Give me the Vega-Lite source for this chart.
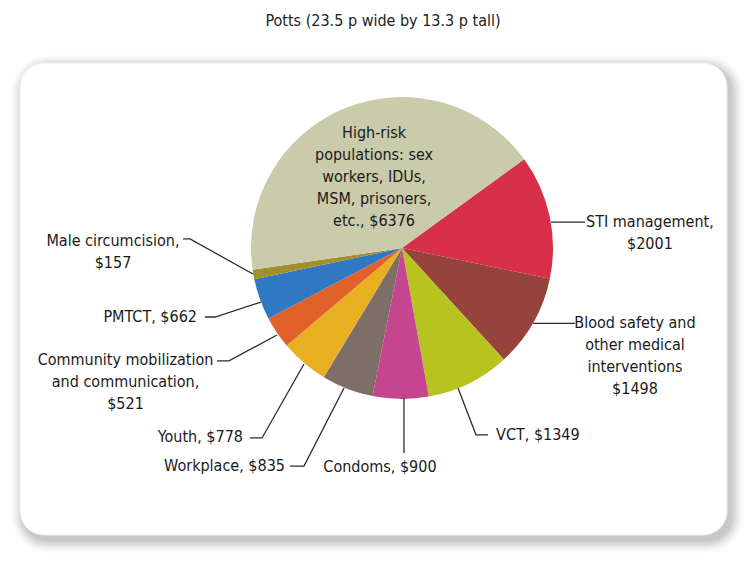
{
  "$schema": "https://vega.github.io/schema/vega-lite/v6.json",
  "width": 707,
  "height": 472,
  "autosize": "none",
  "padding": {"left": 20, "top": 63, "right": 23, "bottom": 43},
  "background": "white",
  "config": {
    "view": {"stroke": null},
    "font": "DejaVu Sans Condensed, DejaVu Sans, sans-serif",
    "title": {"font": "DejaVu Sans Condensed, DejaVu Sans, sans-serif"},
    "text": {"font": "DejaVu Sans Condensed, DejaVu Sans, sans-serif"}
  },
  "title": {
    "text": "Potts (23.5 p wide by 13.3 p tall)",
    "fontSize": 16,
    "fontWeight": "normal",
    "color": "#222222",
    "baseline": "alphabetic",
    "offset": 13,
    "dx": 9.5
  },
  "datasets": {
    "slices": [
      {"name": "STI management", "value": 2001, "order": 1},
      {"name": "Blood safety and other medical interventions", "value": 1498, "order": 2},
      {"name": "VCT", "value": 1349, "order": 3},
      {"name": "Condoms", "value": 900, "order": 4},
      {"name": "Workplace", "value": 835, "order": 5},
      {"name": "Youth", "value": 778, "order": 6},
      {"name": "Community mobilization and communication", "value": 521, "order": 7},
      {"name": "PMTCT", "value": 662, "order": 8},
      {"name": "Male circumcision", "value": 157, "order": 9},
      {"name": "High-risk populations", "value": 6376, "order": 10}
    ],
    "frame": [
      {"x0": -2.5298, "x1": 2.1523, "y0": 1.2252, "y1": -1.9007}
    ],
    "leaders": [
      {"label": "STI", "step": 1, "x": 0.987, "y": 0.172},
      {"label": "STI", "step": 2, "x": 1.212, "y": 0.172},
      {"label": "Blood", "step": 1, "x": 0.868, "y": -0.499},
      {"label": "Blood", "step": 2, "x": 1.146, "y": -0.499},
      {"label": "VCT", "step": 1, "x": 0.371, "y": -0.927},
      {"label": "VCT", "step": 2, "x": 0.490, "y": -1.238},
      {"label": "VCT", "step": 3, "x": 0.570, "y": -1.238},
      {"label": "Condoms", "step": 1, "x": 0.013, "y": -0.993},
      {"label": "Condoms", "step": 2, "x": 0.013, "y": -1.358},
      {"label": "Workplace", "step": 1, "x": -0.384, "y": -0.927},
      {"label": "Workplace", "step": 2, "x": -0.649, "y": -1.444},
      {"label": "Workplace", "step": 3, "x": -0.742, "y": -1.444},
      {"label": "Youth", "step": 1, "x": -0.649, "y": -0.768},
      {"label": "Youth", "step": 2, "x": -0.927, "y": -1.258},
      {"label": "Youth", "step": 3, "x": -1.007, "y": -1.258},
      {"label": "Community", "step": 1, "x": -0.828, "y": -0.576},
      {"label": "Community", "step": 2, "x": -1.146, "y": -0.748},
      {"label": "Community", "step": 3, "x": -1.225, "y": -0.748},
      {"label": "PMTCT", "step": 1, "x": -0.934, "y": -0.358},
      {"label": "PMTCT", "step": 2, "x": -1.238, "y": -0.457},
      {"label": "PMTCT", "step": 3, "x": -1.305, "y": -0.457},
      {"label": "Male", "step": 1, "x": -0.987, "y": -0.172},
      {"label": "Male", "step": 2, "x": -1.404, "y": 0.060},
      {"label": "Male", "step": 3, "x": -1.450, "y": 0.060}
    ],
    "labels_center": [
      {"text": "High-risk\npopulations: sex\nworkers, IDUs,\nMSM, prisoners,\netc., $6376", "x": -0.185, "y": 0.762},
      {"text": "STI management,\n$2001", "x": 1.642, "y": 0.172},
      {"text": "Blood safety and\nother medical\ninterventions\n$1498", "x": 1.543, "y": -0.497},
      {"text": "Condoms, $900", "x": -0.146, "y": -1.450},
      {"text": "Community mobilization\nand communication,\n$521", "x": -1.831, "y": -0.742},
      {"text": "Male circumcision,\n$157", "x": -1.914, "y": 0.046}
    ],
    "labels_left": [
      {"text": "VCT, $1349", "x": 0.623, "y": -1.238}
    ],
    "labels_right": [
      {"text": "Workplace, $835", "x": -0.775, "y": -1.444},
      {"text": "Youth, $778", "x": -1.053, "y": -1.252},
      {"text": "PMTCT, $662", "x": -1.358, "y": -0.457}
    ]
  },
  "encoding": {
    "x": {"type": "quantitative", "scale": {"domain": [-2.5298, 2.1523], "nice": false, "zero": false}, "axis": null},
    "y": {"type": "quantitative", "scale": {"domain": [-1.9007, 1.2252], "nice": false, "zero": false}, "axis": null}
  },
  "layer": [
    {"data": {"name": "frame"}, "mark": {"type": "rect", "color": "black", "opacity": 0.045, "cornerRadius": 25, "xOffset": 3, "x2Offset": 5, "yOffset": 4, "y2Offset": 6},
     "encoding": {"x": {"field": "x0"}, "x2": {"field": "x1"}, "y": {"field": "y0"}, "y2": {"field": "y1"}}},
    {"data": {"name": "frame"}, "mark": {"type": "rect", "color": "black", "opacity": 0.04, "cornerRadius": 27, "xOffset": 1, "x2Offset": 7, "yOffset": 2, "y2Offset": 8},
     "encoding": {"x": {"field": "x0"}, "x2": {"field": "x1"}, "y": {"field": "y0"}, "y2": {"field": "y1"}}},
    {"data": {"name": "frame"}, "mark": {"type": "rect", "color": "black", "opacity": 0.04, "cornerRadius": 29, "xOffset": -1, "x2Offset": 9, "yOffset": 0, "y2Offset": 10},
     "encoding": {"x": {"field": "x0"}, "x2": {"field": "x1"}, "y": {"field": "y0"}, "y2": {"field": "y1"}}},
    {"data": {"name": "frame"}, "mark": {"type": "rect", "color": "black", "opacity": 0.035, "cornerRadius": 31, "xOffset": -3, "x2Offset": 11, "yOffset": -2, "y2Offset": 12},
     "encoding": {"x": {"field": "x0"}, "x2": {"field": "x1"}, "y": {"field": "y0"}, "y2": {"field": "y1"}}},
    {"data": {"name": "frame"}, "mark": {"type": "rect", "color": "black", "opacity": 0.03, "cornerRadius": 33, "xOffset": -5, "x2Offset": 13, "yOffset": -4, "y2Offset": 14},
     "encoding": {"x": {"field": "x0"}, "x2": {"field": "x1"}, "y": {"field": "y0"}, "y2": {"field": "y1"}}},
    {"data": {"name": "frame"}, "mark": {"type": "rect", "color": "black", "opacity": 0.02, "cornerRadius": 35, "xOffset": -7, "x2Offset": 15, "yOffset": -6, "y2Offset": 16},
     "encoding": {"x": {"field": "x0"}, "x2": {"field": "x1"}, "y": {"field": "y0"}, "y2": {"field": "y1"}}},
    {"data": {"name": "frame"}, "mark": {"type": "rect", "color": "black", "opacity": 0.015, "cornerRadius": 37, "xOffset": -9, "x2Offset": 17, "yOffset": -8, "y2Offset": 18},
     "encoding": {"x": {"field": "x0"}, "x2": {"field": "x1"}, "y": {"field": "y0"}, "y2": {"field": "y1"}}},
    {"data": {"name": "frame"}, "mark": {"type": "rect", "color": "white", "opacity": 1, "cornerRadius": 24, "stroke": "#ececec", "strokeWidth": 1},
     "encoding": {"x": {"field": "x0"}, "x2": {"field": "x1"}, "y": {"field": "y0"}, "y2": {"field": "y1"}}},
    {
      "data": {"name": "slices"},
      "mark": {"type": "arc", "outerRadius": 151},
      "encoding": {
        "theta": {"field": "value", "type": "quantitative", "stack": true, "scale": {"range": [0.9425, 7.2257]}},
        "order": {"field": "order", "type": "quantitative"},
        "color": {
          "field": "name", "type": "nominal", "legend": null,
          "scale": {
            "domain": ["STI management", "Blood safety and other medical interventions", "VCT", "Condoms", "Workplace", "Youth", "Community mobilization and communication", "PMTCT", "Male circumcision", "High-risk populations"],
            "range": ["#d8304b", "#95433b", "#b7c41f", "#c5458e", "#7d6e68", "#e8b020", "#e0622a", "#3079c2", "#a38f2b", "#c9cbab"]
          }
        },
        "x": {"datum": 0},
        "y": {"datum": 0}
      }
    },
    {
      "data": {"name": "leaders"},
      "mark": {"type": "line", "stroke": "#2b2b2b", "strokeWidth": 1.3},
      "encoding": {
        "x": {"field": "x"},
        "y": {"field": "y"},
        "detail": {"field": "label", "type": "nominal"},
        "order": {"field": "step", "type": "quantitative"}
      }
    },
    {
      "data": {"name": "labels_center"},
      "mark": {"type": "text", "align": "center", "baseline": "middle", "lineBreak": "\n", "fontSize": 16, "lineHeight": 22, "color": "#1a1a1a"},
      "encoding": {"x": {"field": "x"}, "y": {"field": "y"}, "text": {"field": "text", "type": "nominal"}}
    },
    {
      "data": {"name": "labels_left"},
      "mark": {"type": "text", "align": "left", "baseline": "middle", "lineBreak": "\n", "fontSize": 16, "lineHeight": 22, "color": "#1a1a1a"},
      "encoding": {"x": {"field": "x"}, "y": {"field": "y"}, "text": {"field": "text", "type": "nominal"}}
    },
    {
      "data": {"name": "labels_right"},
      "mark": {"type": "text", "align": "right", "baseline": "middle", "lineBreak": "\n", "fontSize": 16, "lineHeight": 22, "color": "#1a1a1a"},
      "encoding": {"x": {"field": "x"}, "y": {"field": "y"}, "text": {"field": "text", "type": "nominal"}}
    }
  ]
}
